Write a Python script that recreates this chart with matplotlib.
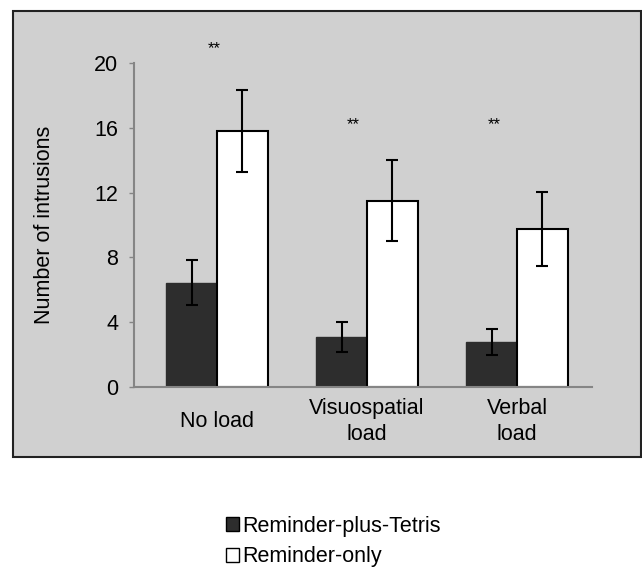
"""Intrusions by load condition: Reminder-plus-Tetris vs Reminder-only."""

import matplotlib.pyplot as plt
import numpy as np
from matplotlib.patches import Patch, Rectangle

plt.rcParams["font.family"] = ["Liberation Sans", "DejaVu Sans"]

# Data
conditions = ["No load", "Visuospatial\nload", "Verbal\nload"]
tetris_mean = [6.45, 3.1, 2.78]
tetris_err = [1.4, 0.93, 0.78]
reminder_mean = [15.8, 11.5, 9.77]
reminder_err = [2.55, 2.5, 2.28]
star_labels = ["**", "**", "**"]
star_y = [20.9, 16.2, 16.2]
yticks = [0, 4, 8, 12, 16, 20]

dark = "#2d2d2d"
axis_gray = "#858585"

fig = plt.figure(figsize=(6.42, 5.68), dpi=100)

# gray panel behind the chart
panel = Rectangle(
    (12.5 / 642, 1 - 457 / 568),
    (641 - 12.5) / 642,
    (457 - 11) / 568,
    transform=fig.transFigure,
    facecolor="#d0d0d0",
    edgecolor="#222222",
    linewidth=1.5,
    zorder=-10,
)
fig.patches.append(panel)

ax = fig.add_axes([134 / 642, 1 - 387 / 568, (592 - 134) / 642, (387 - 63) / 568])
ax.set_zorder(5)
ax.patch.set_visible(False)

x = np.arange(len(conditions))
width = 0.337

ax.bar(
    x - width / 2, tetris_mean, width,
    color=dark, edgecolor=dark, linewidth=1, zorder=2,
)
ax.bar(
    x + width / 2, reminder_mean, width,
    color="white", edgecolor="black", linewidth=1.5, zorder=2,
)
ax.errorbar(
    x - width / 2, tetris_mean, yerr=tetris_err,
    fmt="none", ecolor="black", elinewidth=1.5, capsize=4.5, capthick=1.5, zorder=3,
)
ax.errorbar(
    x + width / 2, reminder_mean, yerr=reminder_err,
    fmt="none", ecolor="black", elinewidth=1.5, capsize=4.5, capthick=1.5, zorder=3,
)

# significance stars
star_dx = [-0.02, -0.09, -0.15]
for i, s in enumerate(star_labels):
    ax.text(x[i] + star_dx[i], star_y[i], s, ha="center", va="center", fontsize=12, clip_on=False)

ax.set_xlim(-0.553, 2.5)
ax.set_ylim(0, 20)
ax.set_yticks(yticks)
ax.set_yticklabels([str(t) for t in yticks], fontsize=15.5)
ax.set_xticks(x)
ax.set_xticklabels(conditions, fontsize=15.5, va="center", linespacing=1.3)
ax.tick_params(axis="x", length=0, pad=25)
ax.tick_params(axis="y", length=3.5, width=1, color=axis_gray, pad=8)

for side in ["top", "right"]:
    ax.spines[side].set_visible(False)
for side in ["left", "bottom"]:
    ax.spines[side].set_color(axis_gray)
    ax.spines[side].set_linewidth(1.5)

ax.set_ylabel("Number of intrusions", fontsize=15.5)
ax.yaxis.set_label_coords(-0.172, 0.5)

handles = [
    Patch(facecolor=dark, edgecolor="black", label="Reminder-plus-Tetris"),
    Patch(facecolor="white", edgecolor="black", label="Reminder-only"),
]
fig.legend(
    handles=handles,
    loc="upper left",
    bbox_to_anchor=(215 / 642, 1 - 505 / 568),
    frameon=False,
    fontsize=15.5,
    handlelength=0.6,
    handleheight=0.6,
    handletextpad=0.15,
    labelspacing=0.45,
    borderpad=0,
)

fig.savefig("out.png", dpi=100)
